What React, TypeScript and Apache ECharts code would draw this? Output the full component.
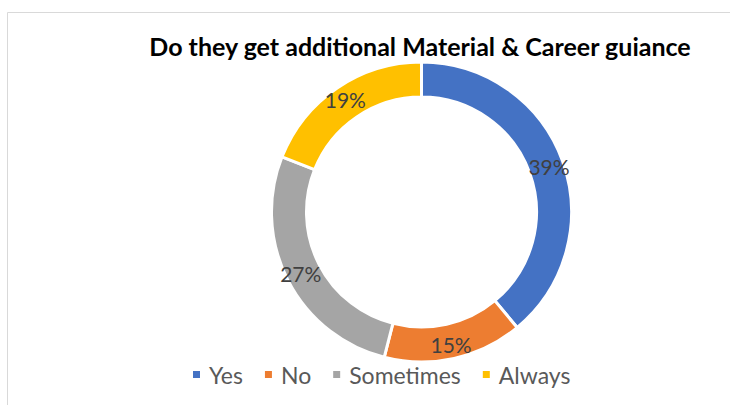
import React, { useEffect, useRef } from "react";
import * as echarts from "echarts";

const categories = ["Yes", "No", "Sometimes", "Always"];
const values = [39, 15, 27, 19];
const colors = ["#4472C4", "#ED7D31", "#A5A5A5", "#FFC000"];
const titleText = "Do they get additional Material & Career guiance";

export default function App() {
  const ref = useRef<HTMLDivElement>(null);
  useEffect(() => {
    if (!ref.current) return;
    const chart = echarts.init(ref.current, null, { renderer: "svg" });
    chart.setOption({
      animation: false,
      backgroundColor: "#ffffff",
      title: {
        text: titleText,
        left: 420,
        textAlign: "center",
        top: 33,
        padding: 0,
        textStyle: {
          fontFamily: "Lato",
          fontWeight: "bold",
          fontSize: 25,
          color: "#000000",
        },
      },
      legend: {
        data: categories,
        left: 191,
        top: 363,
        padding: 0,
        itemWidth: 9,
        itemHeight: 9,
        itemGap: 20,
        icon: "rect",
        textStyle: {
          fontFamily: "Lato",
          fontSize: 23,
          color: "#595959",
          padding: [0, 0, 0, 3],
        },
      },
      graphic: [
        {
          type: "rect",
          shape: { x: 7.5, y: 12.5, width: 740, height: 420 },
          style: { fill: "none", stroke: "#d9d9d9", lineWidth: 1 },
          silent: true,
        },
      ],
      series: [
        {
          type: "pie",
          center: [421.5, 212],
          radius: [115, 150],
          startAngle: 90,
          clockwise: true,
          color: colors,
          itemStyle: { borderColor: "#ffffff", borderWidth: 3 },
          label: {
            show: true,
            position: "inside",
            formatter: "{c}%",
            fontFamily: "Lato",
            fontSize: 21,
            color: "#404040",
          },
          labelLine: { show: false },
          data: categories.map((c, i) => ({ name: c, value: values[i] })),
        },
      ],
    });
    return () => chart.dispose();
  }, []);
  return (
    <div
      ref={ref}
      style={{ position: "fixed", left: 0, top: 0, width: 730, height: 405 }}
    />
  );
}
